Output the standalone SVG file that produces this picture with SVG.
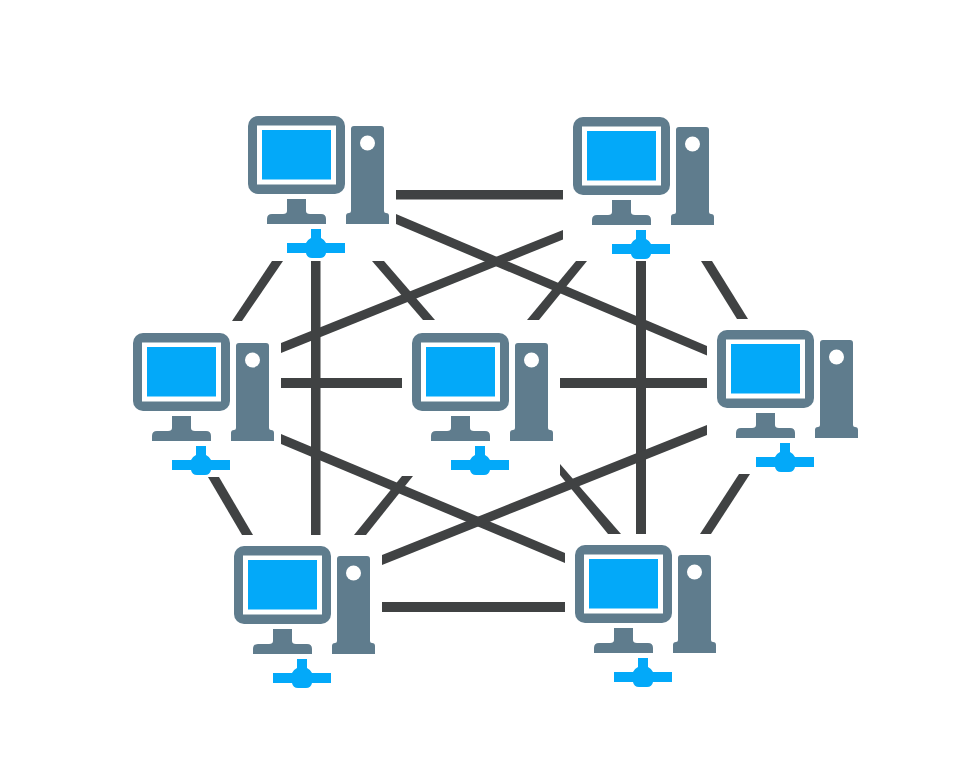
<svg xmlns="http://www.w3.org/2000/svg" width="964" height="778" viewBox="0 0 964 778">
<style>
.b{fill:#5f7c8d}.w{fill:#fff}.s{fill:#03a9f9}.n{fill:#03a9f9}.l{fill:#404243}
</style>
<defs>
<g id="pc">
<rect class="b" x="0" y="0" width="97" height="78" rx="10"/>
<rect class="w" x="9" y="9.500" width="79" height="59"/>
<rect class="s" x="14" y="14" width="69" height="49.500"/>
<path class="b" d="M39 83H58V95Q58 98 62 98H73Q78 98 78 103V108H19V103Q19 98 24 98H35Q39 98 39 95Z"/>
<path class="b" d="M103 13Q103 10 106 10H133Q136 10 136 13V95Q136 97 138 97Q141 97 141 100V108H98V100Q98 97 101 97Q103 97 103 95Z"/>
<circle class="w" cx="119.500" cy="27" r="7.500"/>
<path class="n" d="M63 113H73V122A10.500 10.500 0 0 1 78 127H97V137H78Q77 142 72 142H64Q59 142 58 137H39V127H58A10.500 10.500 0 0 1 63 122Z"/>
</g>
</defs>
<rect width="964" height="778" fill="#fff"/>
<g id="connectors">
<path class="l" d="M396 190H563V199.500H396Z"/>
<path class="l" d="M396 214L707 346V355.500L396 224Z"/>
<path class="l" d="M563 230V239.500L281 353V343Z"/>
<path class="l" d="M272 261H283L242 321H232Z"/>
<path class="l" d="M311 261H320.500V535H311Z"/>
<path class="l" d="M372 261H384L435 320H423Z"/>
<path class="l" d="M576 261H587L539 320H527Z"/>
<path class="l" d="M636 261H646V534H636Z"/>
<path class="l" d="M701 261H712L748 319H737Z"/>
<path class="l" d="M281 378H402V388H281Z"/>
<path class="l" d="M560 378H707V388H560Z"/>
<path class="l" d="M281 434L565 553V563L281 444Z"/>
<path class="l" d="M707 425V435L382 565V555Z"/>
<path class="l" d="M208 477H219L253 535H242Z"/>
<path class="l" d="M402 476H413L366 535H354Z"/>
<path class="l" d="M560 464L621 534H608L560 475Z"/>
<path class="l" d="M739 474H750L711 534H700Z"/>
<path class="l" d="M382 602H565V612H382Z"/>
</g>
<g id="node-1"><use href="#pc" x="248" y="116"/></g>
<g id="node-2"><use href="#pc" x="573" y="117"/></g>
<g id="node-3"><use href="#pc" x="133" y="333"/></g>
<g id="node-4"><use href="#pc" x="412" y="333"/></g>
<g id="node-5"><use href="#pc" x="717" y="330"/></g>
<g id="node-6"><use href="#pc" x="234" y="546"/></g>
<g id="node-7"><use href="#pc" x="575" y="545"/></g>
</svg>
